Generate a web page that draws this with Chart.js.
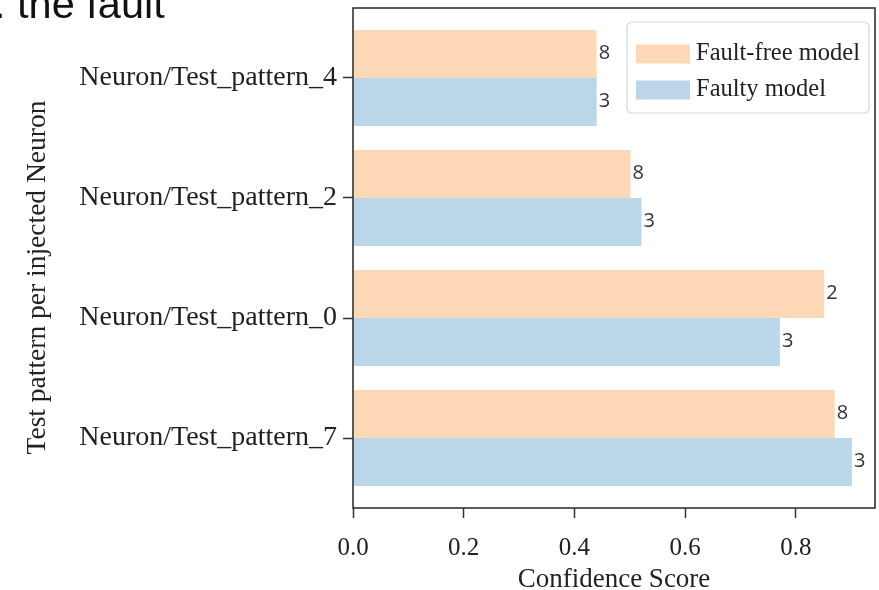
<!DOCTYPE html>
<html>
<head>
<meta charset="utf-8">
<script src="https://cdn.jsdelivr.net/npm/chart.js@4/dist/chart.umd.min.js"></script>
<style>
  html, body { margin: 0; padding: 0; background: #ffffff; }
  #wrap { width: 879px; height: 590px; position: relative; }
</style>
</head>
<body>
<div id="wrap"><canvas id="c" width="879" height="590"></canvas></div>
<script>
// ---- data (top to bottom) ----
const categories = ['Neuron/Test_pattern_4', 'Neuron/Test_pattern_2', 'Neuron/Test_pattern_0', 'Neuron/Test_pattern_7'];
const faultFreeScores = [0.440, 0.501, 0.851, 0.870];
const faultyScores = [0.440, 0.521, 0.771, 0.901];
const faultFreeLabels = ['8', '8', '2', '8'];
const faultyLabels = ['3', '3', '3', '3'];
const xTicks = [0.0, 0.2, 0.4, 0.6, 0.8];
const seriesNames = ['Fault-free model', 'Faulty model'];
const xTitle = 'Confidence Score';
const yTitle = 'Test pattern per injected Neuron';
const clippedHeading = '. the fault';

const ORANGE = 'rgb(255,217,183)';
const BLUE = 'rgb(188,214,233)';
const FRAME = '#333333';
const SERIF = '"Liberation Serif", "DejaVu Serif", serif';

const toPoints = (arr) => arr.map((v, i) => ({ x: v, y: i }));
const valueLabels = [faultFreeLabels, faultyLabels];

const decorPlugin = {
  id: 'decor',
  afterDatasetsDraw(chart) {
    const ctx = chart.ctx;
    ctx.save();
    ctx.font = '20px "Open Sans", "Noto Sans", sans-serif';
    ctx.fillStyle = '#333333';
    ctx.textAlign = 'left';
    ctx.textBaseline = 'middle';
    chart.data.datasets.forEach((ds, di) => {
      const meta = chart.getDatasetMeta(di);
      meta.data.forEach((el, i) => {
        ctx.fillText(valueLabels[di][i], el.x + 2, el.y - 1);
      });
    });
    ctx.restore();
  },
  afterDraw(chart) {
    const ctx = chart.ctx;
    const a = chart.chartArea;
    ctx.save();
    ctx.strokeStyle = FRAME;
    ctx.lineWidth = 1.6;
    ctx.strokeRect(a.left, a.top, a.right - a.left, a.bottom - a.top);
    ctx.restore();

    // legend
    ctx.save();
    const lx = 627, ly = 22, lw = 242, lh = 91, r = 5;
    ctx.beginPath();
    ctx.moveTo(lx + r, ly);
    ctx.arcTo(lx + lw, ly, lx + lw, ly + lh, r);
    ctx.arcTo(lx + lw, ly + lh, lx, ly + lh, r);
    ctx.arcTo(lx, ly + lh, lx, ly, r);
    ctx.arcTo(lx, ly, lx + lw, ly, r);
    ctx.closePath();
    ctx.fillStyle = 'rgba(255,255,255,0.85)';
    ctx.fill();
    ctx.strokeStyle = '#d6d6d6';
    ctx.lineWidth = 1.2;
    ctx.stroke();
    const colors = [ORANGE, BLUE];
    const rows = [54, 90];
    ctx.font = '24.5px ' + SERIF;
    ctx.textAlign = 'left';
    ctx.textBaseline = 'middle';
    seriesNames.forEach((name, i) => {
      ctx.fillStyle = colors[i];
      ctx.fillRect(636, rows[i] - 9.5, 54, 19);
      ctx.fillStyle = '#222222';
      ctx.fillText(name, 696, rows[i]);
    });
    ctx.restore();

    // y-axis title
    ctx.save();
    ctx.translate(38, 277.5);
    ctx.rotate(-Math.PI / 2);
    ctx.font = '27.5px ' + SERIF;
    ctx.fillStyle = '#222222';
    ctx.textAlign = 'center';
    ctx.textBaseline = 'middle';
    ctx.fillText(yTitle, 0, 0);
    ctx.restore();

    // clipped heading from the surrounding page
    ctx.save();
    ctx.font = '41.5px "Liberation Sans", Arial, sans-serif';
    ctx.fillStyle = '#111111';
    ctx.textAlign = 'left';
    ctx.textBaseline = 'alphabetic';
    ctx.fillText(clippedHeading, -6, 17.5);
    ctx.restore();
  }
};

new Chart(document.getElementById('c'), {
  type: 'bar',
  data: {
    datasets: [
      { label: seriesNames[0], data: toPoints(faultFreeScores), backgroundColor: ORANGE, borderWidth: 0 },
      { label: seriesNames[1], data: toPoints(faultyScores), backgroundColor: BLUE, borderWidth: 0 }
    ]
  },
  options: {
    indexAxis: 'y',
    responsive: false,
    animation: false,
    devicePixelRatio: 1,
    layout: { padding: { top: 8, right: 4, left: 0, bottom: 0 } },
    datasets: { bar: { categoryPercentage: 0.8, barPercentage: 1.0 } },
    plugins: { legend: { display: false }, tooltip: { enabled: false } },
    scales: {
      x: {
        type: 'linear',
        position: 'bottom',
        min: 0,
        max: 0.9427,
        offset: false,
        afterBuildTicks: (s) => { s.ticks = xTicks.map(v => ({ value: v })); },
        afterFit: (s) => { s.height = 82; s.paddingLeft = 0; s.paddingRight = 0; },
        border: { display: false },
        grid: { offset: false, drawOnChartArea: false, drawTicks: true, tickLength: 10, tickColor: FRAME, tickWidth: 1.5 },
        ticks: {
          color: '#222222',
          font: { family: SERIF, size: 25 },
          padding: 15,
          maxRotation: 0,
          callback: (v) => Number(v).toFixed(1)
        },
        title: {
          display: true,
          text: xTitle,
          color: '#222222',
          font: { family: SERIF, size: 27, lineHeight: 1.0 },
          padding: { top: 0, bottom: -3 }
        }
      },
      y: {
        type: 'linear',
        position: 'left',
        reverse: true,
        min: -0.583,
        max: 3.583,
        offset: false,
        afterBuildTicks: (s) => { s.ticks = categories.map((c, i) => ({ value: i })); },
        afterFit: (s) => { s.width = 353; s.paddingTop = 0; s.paddingBottom = 0; },
        border: { display: false },
        grid: { offset: false, drawOnChartArea: false, drawTicks: true, tickLength: 10, tickColor: FRAME, tickWidth: 1.5 },
        ticks: {
          color: '#222222',
          font: { family: SERIF, size: 28 },
          padding: 6,
          callback: (v) => categories[v]
        }
      }
    }
  },
  plugins: [decorPlugin]
});
</script>
</body>
</html>
